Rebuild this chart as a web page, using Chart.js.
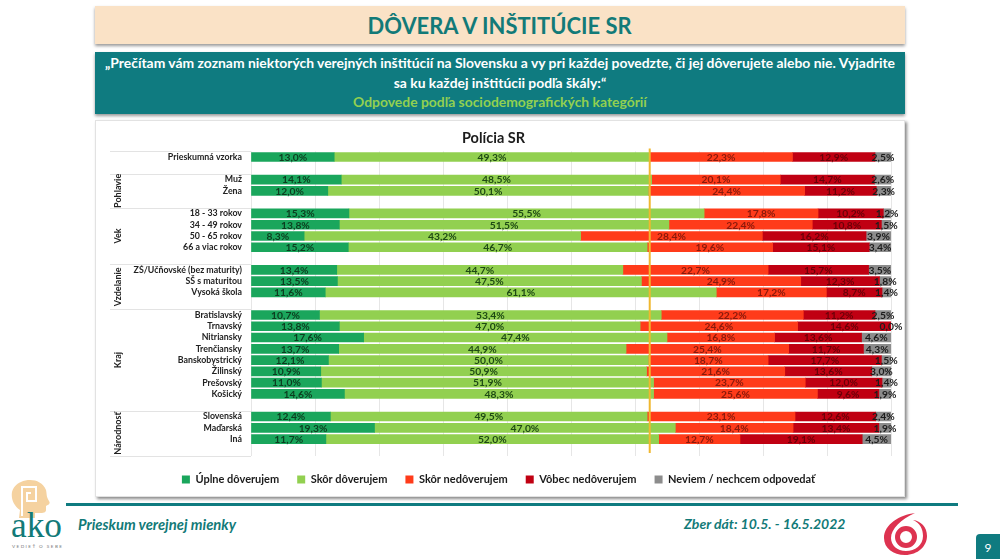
<!DOCTYPE html>
<html lang="sk">
<head>
<meta charset="utf-8">
<title>Dôvera v inštitúcie SR</title>
<script src="https://cdn.jsdelivr.net/npm/chart.js@4"></script>
<style>
    html, body { margin: 0; padding: 0; background: #fff; }
    body { position: relative; width: 1000px; height: 559px; overflow: hidden; font-family: Lato, sans-serif; }
    .abs { position: absolute; }
    #titleBand { left: 95px; top: 6px; width: 810px; height: 38px; background: #fae2c6; box-shadow: 0 2px 3px #999;
        color: #127a78; font-weight: 700; font-size: 23px; line-height: 38px; text-align: center; }
    #titleBand span { display: inline-block; transform: scaleX(0.953); }
    #questionBand { left: 95px; top: 52px; width: 810px; height: 62px; background: #0f7b80; box-shadow: 0 2px 3px #999;
        color: #fff; font-weight: 700; font-size: 13.9px; line-height: 19.5px; text-align: center; padding-top: 1px; box-sizing: border-box; }
    #questionBand .sub { color: #92d050; }
    #card { left: 95px; top: 120px; width: 808px; height: 375px; background: #fff; border: 1px solid #e2e2e2; box-shadow: 2px 2px 3px #888; }
    #chartCanvas { position: absolute; left: 0; top: 0; }
    #footerLine { left: 66px; top: 503px; width: 892px; height: 3px; background: #0f7b80; }
    .footerText { color: #127a78; font-weight: 700; font-style: italic; white-space: nowrap; }
    #pageBox { left: 976px; top: 534px; width: 24px; height: 25px; background: #0f7b80; border-top-left-radius: 4px; color: #fff; font-size: 12px; line-height: 28px; text-align: center; }
</style>
</head>
<body>
<div class="abs" id="titleBand"><span>DÔVERA V INŠTITÚCIE SR</span></div>
<div class="abs" id="questionBand">
    „Prečítam vám zoznam niektorých verejných inštitúcií na Slovensku a vy pri každej povedzte, či jej dôverujete alebo nie. Vyjadrite<br>
    sa ku každej inštitúcii podľa škály:“<br>
    <span class="sub">Odpovede podľa sociodemografických kategórií</span>
</div>
<div class="abs" id="card"><canvas id="chartCanvas" width="808" height="375"></canvas></div>
<div class="abs" id="footerLine"></div>
<div class="abs footerText" style="left:78px;top:515px;font-size:14.8px;">Prieskum verejnej mienky</div>
<div class="abs footerText" style="left:684px;top:515px;font-size:14px;">Zber dát: 10.5. - 16.5.2022</div>
<div class="abs" id="pageBox">9</div>

<svg class="abs" style="left:6px;top:474px;" width="64" height="85" viewBox="0 0 64 85">
    <path d="M15 8 C24 4 36 6 40 16 C41 20 40 22 43 27 C45 30 42 31 40 32 L40 36 C40 40 33 39 29 39 L29 44 L13 44 L14 36 C7 31 5 24 6 18 C7 14 10 10 15 8 Z" fill="#f5d2a0"/>
    <path d="M16 42 L16 13 L30 13 L30 27 L21 27 L21 19 L25 19" fill="none" stroke="#fff" stroke-width="2"/>
    <text x="5" y="63" font-family="Liberation Serif" font-size="36" fill="#127a78" textLength="51" lengthAdjust="spacingAndGlyphs">ako</text>
    <text x="6" y="74" font-family="Lato" font-size="4.6" fill="#777" textLength="50">VEDIEŤ O SEBE</text>
</svg>
<svg class="abs" style="left:882px;top:512px;" width="46" height="46" viewBox="0 0 46 46">
    <path d="M33 1 C18 3 2 12 2 26 C2 36 11 43 23 43 C36 43 45 34 45 24 C45 15 39 9 31 8 C38 11 41 17 41 24 C41 33 33 39 24 39 C15 39 9 33 9 26 C9 17 19 7 33 1 Z" fill="#dd3350"/>
    <circle cx="24" cy="25" r="8.5" fill="none" stroke="#dd3350" stroke-width="5"/>
</svg>

<script>
const categories = [
    'Prieskumná vzorka', '',
    'Muž', 'Žena', '',
    '18 - 33 rokov', '34 - 49 rokov', '50 - 65 rokov', '66 a viac rokov', '',
    'ZŠ/Učňovské (bez maturity)', 'SŠ s maturitou', 'Vysoká škola', '',
    'Bratislavský', 'Trnavský', 'Nitriansky', 'Trenčiansky', 'Banskobystrický', 'Žilinský', 'Prešovský', 'Košický', '',
    'Slovenská', 'Maďarská', 'Iná', ''
];

const uplneDoverujem = [13.0, null, 14.1, 12.0, null, 15.3, 13.8, 8.3, 15.2, null, 13.4, 13.5, 11.6, null, 10.7, 13.8, 17.6, 13.7, 12.1, 10.9, 11.0, 14.6, null, 12.4, 19.3, 11.7, null];
const skorDoverujem = [49.3, null, 48.5, 50.1, null, 55.5, 51.5, 43.2, 46.7, null, 44.7, 47.5, 61.1, null, 53.4, 47.0, 47.4, 44.9, 50.0, 50.9, 51.9, 48.3, null, 49.5, 47.0, 52.0, null];
const skorNedoverujem = [22.3, null, 20.1, 24.4, null, 17.8, 22.4, 28.4, 19.6, null, 22.7, 24.9, 17.2, null, 22.2, 24.6, 16.8, 25.4, 18.7, 21.6, 23.7, 25.6, null, 23.1, 18.4, 12.7, null];
const vobecNedoverujem = [12.9, null, 14.7, 11.2, null, 10.2, 10.8, 16.2, 15.1, null, 15.7, 12.3, 8.7, null, 11.2, 14.6, 13.6, 11.7, 17.7, 13.6, 12.0, 9.6, null, 12.6, 13.4, 19.1, null];
const neviem = [2.5, null, 2.6, 2.3, null, 1.2, 1.5, 3.9, 3.4, null, 3.5, 1.8, 1.4, null, 2.5, 0.0, 4.6, 4.3, 1.5, 3.0, 1.4, 1.9, null, 2.4, 1.9, 4.5, null];

const groupNames = ['Pohlavie', 'Vek', 'Vzdelanie', 'Kraj', 'Národnosť'];
const groupFirstRow = [2, 5, 10, 14, 23];
const groupLastRow = [4, 9, 13, 22, 26];

// share of positive answers in the whole sample, marked with the yellow line
const sampleTrust = 62.3;

const labelFont = 'bold 10.3px Lato, sans-serif';
const groupFont = 'bold 9px Lato, sans-serif';

// draws the percentages inside the bars, there is no datalabels plugin here
const barLabels = {
    id: 'barLabels',
    afterDatasetsDraw(chart) {
        const ctx = chart.ctx;
        ctx.save();
        ctx.font = labelFont;
        ctx.textAlign = 'center';
        ctx.textBaseline = 'middle';
        chart.data.datasets.forEach((dataset, d) => {
            const meta = chart.getDatasetMeta(d);
            ctx.fillStyle = dataset.labelColor;
            meta.data.forEach((bar, i) => {
                if (dataset.data[i] === null) return;
                const props = bar.getProps(['x', 'y', 'base'], true);
                const text = dataset.data[i].toFixed(1).replace('.', ',') + '%';
                ctx.fillText(text, (props.x + props.base) / 2, props.y + 0.5);
            });
        });
        ctx.restore();
    }
};

// yellow line, group separators and the rotated group names
const groupDecor = {
    id: 'groupDecor',
    // the legend is centred with its trailing padding, nudge it back
    afterLayout(chart) {
        chart.legend.left += 5;
        chart.legend.right += 5;
    },
    beforeDatasetsDraw(chart) {
        const ctx = chart.ctx;
        const yScale = chart.scales.y;
        const left = chart.chartArea.left;
        ctx.save();
        ctx.strokeStyle = '#e3e3e3';
        ctx.lineWidth = 1;
        const drawSeparator = function(row) {
            const y = Math.round(yScale.getPixelForValue(row - 0.5)) + 0.5;
            ctx.beginPath();
            ctx.moveTo(14, y);
            ctx.lineTo(left, y);
            ctx.stroke();
        };
        drawSeparator(0);
        groupFirstRow.forEach(drawSeparator);
        drawSeparator(categories.length);

        ctx.fillStyle = '#222';
        ctx.font = groupFont;
        ctx.textAlign = 'center';
        ctx.textBaseline = 'middle';
        groupNames.forEach((name, g) => {
            const y = yScale.getPixelForValue((groupFirstRow[g] + groupLastRow[g]) / 2);
            ctx.save();
            ctx.translate(22, y);
            ctx.rotate(-Math.PI / 2);
            ctx.fillText(name, 0, 0);
            ctx.restore();
        });
        ctx.restore();
    },
    afterDatasetsDraw(chart) {
        const ctx = chart.ctx;
        const x = chart.scales.x.getPixelForValue(sampleTrust);
        ctx.save();
        ctx.strokeStyle = '#f0b72f';
        ctx.lineWidth = 2;
        ctx.beginPath();
        ctx.moveTo(x, chart.chartArea.top - 3);
        ctx.lineTo(x, chart.chartArea.bottom - 3);
        ctx.stroke();
        ctx.restore();
    }
};

function makeDataset(label, data, color, labelColor) {
    return {
        label: label,
        data: data,
        backgroundColor: color,
        labelColor: labelColor,
        borderWidth: 0,
        barThickness: 9,
        stack: 'all'
    };
}

function createChart() {
    const chartContext = document.getElementById('chartCanvas').getContext('2d');

    new Chart(chartContext, {
        type: 'bar',
        data: {
            labels: categories,
            datasets: [
                makeDataset('Úplne dôverujem', uplneDoverujem, '#1aa65c', '#0c3d1f'),
                makeDataset('Skôr dôverujem', skorDoverujem, '#92d050', '#1e4a14'),
                makeDataset('Skôr nedôverujem', skorNedoverujem, '#ff3b1a', '#8a1a0c'),
                makeDataset('Vôbec nedôverujem', vobecNedoverujem, '#c00012', '#6a0008'),
                makeDataset('Neviem / nechcem odpovedať', neviem, '#8c8c8c', '#1c1c1c')
            ]
        },
        options: {
            indexAxis: 'y',
            responsive: false,
            animation: false,
            layout: {
                padding: { left: 0, right: 13, top: 0, bottom: 1 }
            },
            plugins: {
                title: {
                    display: true,
                    text: 'Polícia SR',
                    color: '#1c1c1c',
                    font: { family: 'Lato, sans-serif', size: 14.5, weight: 'bold' },
                    padding: { top: 9, bottom: 4 }
                },
                legend: {
                    position: 'bottom',
                    labels: {
                        boxWidth: 8,
                        boxHeight: 8,
                        padding: 18,
                        color: '#1c1c1c',
                        font: { family: 'Lato, sans-serif', size: 11, weight: 'bold' }
                    }
                },
                tooltip: { enabled: false }
            },
            scales: {
                x: {
                    stacked: true,
                    min: 0,
                    max: 100,
                    ticks: { display: false, stepSize: 10 },
                    grid: { color: '#e6e6e6', drawTicks: false },
                    border: { display: false }
                },
                y: {
                    stacked: true,
                    afterFit: function(scale) { scale.width = 155; },
                    ticks: {
                        autoSkip: false,
                        padding: 9,
                        color: '#222',
                        font: { family: 'Lato, sans-serif', size: 8.8, weight: 'bold' }
                    },
                    grid: { display: false, drawTicks: false },
                    border: { display: false }
                }
            }
        },
        plugins: [groupDecor, barLabels]
    });
}

document.addEventListener('DOMContentLoaded', createChart);
</script>
</body>
</html>
